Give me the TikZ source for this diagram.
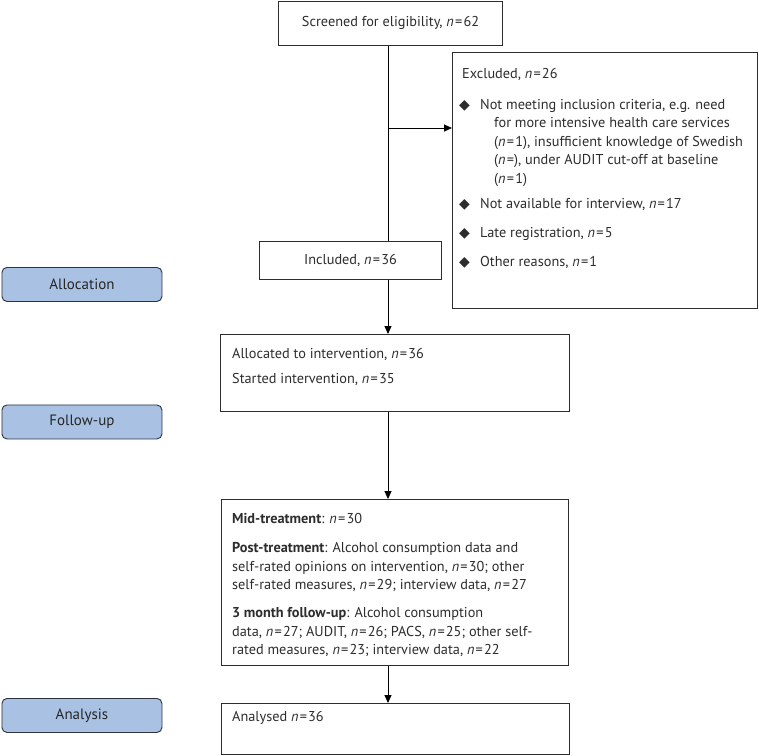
\documentclass[tikz,border=0pt]{standalone}
\usepackage{fontspec}
\setmainfont{PT Sans}
\newfontfamily\djv{DejaVu Sans}
\usetikzlibrary{arrows.meta}
\definecolor{lblue}{RGB}{169,193,227}
\definecolor{lborder}{RGB}{45,50,65}
\definecolor{bline}{RGB}{45,45,45}
\definecolor{tcol}{RGB}{45,45,45}
\newcommand{\nn}[1]{\textit{n}\kern1.2pt=\kern1.2pt#1}
\newcommand{\dmd}{{\djv\fontsize{14}{14}\selectfont ◆}}
\begin{document}
\begin{tikzpicture}[x=1pt,y=-1pt,
  fs/.style={font=\fontsize{14.3}{16}\selectfont, text=tcol},
  box/.style={draw=bline, line width=1.1pt, inner sep=0pt, anchor=north west, fs},
  lab/.style={draw=lborder, fill=lblue, rounded corners=5pt, line width=0.9pt, minimum width=160pt, minimum height=34pt, anchor=north west, inner sep=0pt, font=\fontsize{15}{17}\selectfont, text=black!85},
  txt/.style={anchor=base west, inner sep=0pt, fs},
  ln/.style={line width=1pt, draw=black},
  arr/.style={ln, -{Triangle[length=8pt,width=7pt]}}]
\useasboundingbox (0,0) rectangle (759,755);
\fill[white] (0,0) rectangle (759,755);
% boxes
\node[box, minimum width=224pt, minimum height=44pt] (scr) at (278,0.5) {Screened for eligibility, \nn{62}};
\node[box, minimum width=305pt, minimum height=256pt] (exc) at (452,52) {};
\node[box, minimum width=182pt, minimum height=38pt] (inc) at (259,241) {Included, \nn{36}};
\node[box, minimum width=349pt, minimum height=77pt] (alc) at (220,334) {};
\node[box, minimum width=347pt, minimum height=166pt] (mid) at (221,499) {};
\node[box, minimum width=348pt, minimum height=51pt] (ana) at (221,703) {};
% stage labels
\node[lab] (l1) at (1.5,267) {Allocation};
\node[lab] (l2) at (1.5,404.5) {Follow-up};
\node[lab] (l3) at (1.5,698) {Analysis};
% excluded text
\node[txt] (e0) at (462,78) {Excluded, \nn{26}};
\node[txt] (b1) at (459,109) {\dmd};
\node[txt] (e1) at (480,109) {Not meeting inclusion criteria, e.g. need};
\node[txt] (e2) at (494,127) {for more intensive health care services};
\node[txt] (e3) at (494,146) {(\nn{1}), insufficient knowledge of Swedish};
\node[txt] (e4) at (494,164) {(\textit{n}\kern1.2pt=), under AUDIT cut-off at baseline};
\node[txt] (e5) at (494,183) {(\nn{1})};
\node[txt] (b2) at (459,208) {\dmd};
\node[txt] (e6) at (480,208) {Not available for interview, \nn{17}};
\node[txt] (b3) at (459,237) {\dmd};
\node[txt] (e7) at (480,237) {Late registration, \nn{5}};
\node[txt] (b4) at (459,266) {\dmd};
\node[txt] (e8) at (480,266) {Other reasons, \nn{1}};
% allocated text
\node[txt] (a1) at (232,358) {Allocated to intervention, \nn{36}};
\node[txt] (a2) at (232,383) {Started intervention, \nn{35}};
% mid text
\node[txt] (m1) at (232,523) {\textbf{Mid-treatment}: \nn{30}};
\node[txt] (m2) at (232,552) {\textbf{Post-treatment}: Alcohol consumption data and};
\node[txt] (m3) at (232,571) {self-rated opinions on intervention, \nn{30}; other};
\node[txt] (m4) at (232,589) {self-rated measures, \nn{29}; interview data, \nn{27}};
\node[txt] (m5) at (232,617) {\textbf{3 month follow-up}: Alcohol consumption};
\node[txt] (m6) at (232,636) {data, \nn{27}; AUDIT, \nn{26}; PACS, \nn{25}; other self-};
\node[txt] (m7) at (232,654) {rated measures, \nn{23}; interview data, \nn{22}};
% analysed text
\node[txt] (an) at (232,721) {Analysed \nn{36}};
% connectors
\coordinate (vx) at (388,0);
\coordinate (br) at (388,128);
\draw[ln] (scr.south -| vx) -- (inc.north -| vx);
\draw[arr] (br) -- (br -| exc.west);
\draw[arr] (inc.south -| vx) -- (alc.north -| vx);
\draw[arr] (alc.south -| vx) -- (mid.north -| vx);
\draw[arr] (mid.south -| vx) -- (ana.north -| vx);
\end{tikzpicture}
\end{document}
